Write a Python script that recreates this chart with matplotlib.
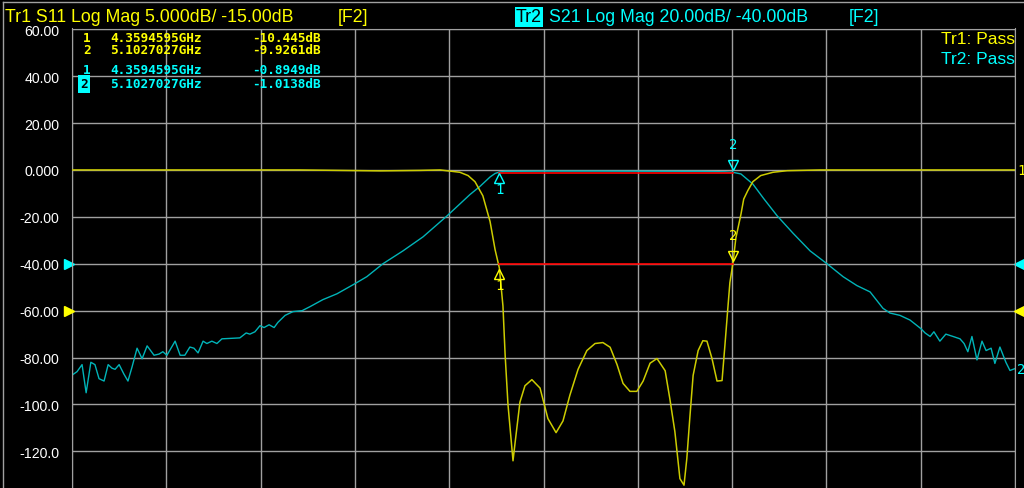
import matplotlib
matplotlib.use("Agg")
import matplotlib.pyplot as plt
from matplotlib.transforms import offset_copy

# S21 trace (GHz, dB)
freq_s21 = [3.000, 3.016, 3.032, 3.045, 3.060, 3.073, 3.086, 3.102, 3.115, 3.127,
            3.137, 3.150, 3.165, 3.178, 3.191, 3.207, 3.223, 3.239, 3.261, 3.277,
            3.289, 3.302, 3.315, 3.328, 3.344, 3.359, 3.375, 3.388, 3.401, 3.417,
            3.429, 3.445, 3.461, 3.477, 3.506, 3.534, 3.554, 3.566, 3.582, 3.598,
            3.611, 3.627, 3.643, 3.655, 3.678, 3.703, 3.732, 3.757, 3.798, 3.843,
            3.900, 3.938, 3.989, 4.053, 4.117, 4.193, 4.234, 4.266, 4.298, 4.330,
            4.346, 4.3595, 4.378, 4.521, 4.680, 4.839, 4.998, 5.077, 5.1027, 5.128,
            5.166, 5.201, 5.243, 5.294, 5.348, 5.402, 5.453, 5.497, 5.539, 5.580,
            5.602, 5.634, 5.666, 5.701, 5.714, 5.730, 5.742, 5.761, 5.780, 5.803,
            5.825, 5.838, 5.850, 5.863, 5.879, 5.895, 5.908, 5.924, 5.936, 5.952,
            5.971, 5.984, 6.000]
s21_db = [-87.5, -86, -83, -95, -82, -83, -89, -90, -83, -84.5,
          -85, -83, -87, -90, -84, -76, -80.5, -75, -79, -78.5,
          -77.5, -79, -76, -73, -79, -79, -75.5, -76, -78, -73,
          -74, -73, -74, -72, -71.8, -71.6, -69.5, -70, -69, -66.4,
          -67.2, -66, -67.2, -65, -62, -60.4, -60, -58.3, -55.3, -52.8,
          -48.5, -45.5, -40, -34.5, -28.5, -19.6, -14.5, -10.5, -7, -3,
          -1.5, -0.89, -0.6, -0.5, -0.5, -0.55, -0.6, -0.8, -1.01, -1.7,
          -6, -12.3, -19.5, -27, -34.5, -40, -45.5, -49.3, -52, -59,
          -61, -62, -64, -67.7, -69.5, -71, -69, -73, -70, -71,
          -72, -74, -77.5, -71, -81, -73, -77, -76, -82.5, -75.5,
          -82, -85.5, -84.7]

# S11 trace (GHz, dB)
freq_s11 = [3.000, 3.725, 3.980, 4.107, 4.171, 4.234, 4.260, 4.282, 4.307, 4.330,
            4.346, 4.3595, 4.371, 4.378, 4.387, 4.403, 4.409, 4.425, 4.441, 4.463,
            4.489, 4.514, 4.540, 4.562, 4.584, 4.610, 4.638, 4.664, 4.689, 4.712,
            4.734, 4.753, 4.775, 4.797, 4.817, 4.839, 4.861, 4.887, 4.902, 4.918,
            4.934, 4.947, 4.956, 4.966, 4.976, 4.992, 5.007, 5.020, 5.036, 5.052,
            5.068, 5.077, 5.087, 5.093, 5.1027, 5.112, 5.128, 5.137, 5.150, 5.166,
            5.191, 5.230, 5.275, 5.380, 6.000]
s11_db = [0, 0, -0.1, -0.05, 0, -0.25, -0.6, -1.25, -2.75, -5.5,
          -8.5, -10.445, -14.5, -19.75, -25, -31, -29.25, -24.75, -23, -22.35,
          -23.25, -26.5, -28, -26.75, -24, -21.25, -19.25, -18.5, -18.4, -18.9,
          -20.75, -22.75, -23.6, -23.6, -22.5, -20.6, -20.1, -21.4, -24.4, -27.9,
          -32.9, -33.6, -30.75, -26.2, -21.9, -19.25, -18.2, -18.25, -20.1, -22.5,
          -22.45, -18.75, -14.5, -12, -9.9261, -7.25, -4.75, -3.1, -2.2, -1.25,
          -0.6, -0.25, -0.08, 0, 0]

mkr_freq = [4.3594595, 5.1027027]
mkr_s11 = [-10.445, -9.9261]
mkr_s21 = [-0.8949, -1.0138]
lim_s11 = -10.0
lim_s21 = -1.5

ytick_vals = [60, 40, 20, 0, -20, -40, -60, -80, -100, -120]
ytick_txt = ["60.00", "40.00", "20.00", "0.000", "-20.00", "-40.00",
             "-60.00", "-80.00", "-100.0", "-120.0"]

YEL = "#ffff00"
CYN = "#00ffff"
YEL_TR = "#cccc00"
CYN_TR = "#00b4b8"
GRID = "#a0a0a0"
W, H = 1024, 489

fig = plt.figure(figsize=(W / 100, H / 100), dpi=100, facecolor="black")
ax = fig.add_axes([72 / W, 0, 943 / W, (H - 29.5) / H])
ax.set_facecolor("black")
ylo, yhi = -135.6, 60.3
ax.set_xlim(3.0, 6.0)
ax.set_ylim(ylo, yhi)
ax.set_xticks([3.0 + 0.3 * i for i in range(11)])
ax.set_xticklabels([])
ax.set_yticks(ytick_vals)
ax.set_yticklabels(ytick_txt, fontsize=10.2, color="white", family="Liberation Sans")
ax.tick_params(length=0, pad=9)
ax.grid(True, color=GRID, lw=1)
for s in ax.spines.values():
    s.set_color(GRID)
ax.spines["bottom"].set_visible(False)

# S11 on its own scale: 5 dB/div, ref -15 dB at the -60 line
ax2 = ax.twinx()
ax2.set_ylim(ylo / 4, yhi / 4)
ax2.axis("off")

ax.plot(freq_s21, s21_db, color=CYN_TR, lw=1)
ax2.plot(freq_s11, s11_db, color=YEL_TR, lw=1.1)

# limit lines
ax.plot(mkr_freq, [lim_s21, lim_s21], color="red", lw=1.2)
ax2.plot(mkr_freq, [lim_s11, lim_s11], color="red", lw=1.2)

# markers
def marker(a, f, v, col, up, num):
    dy = -6 if up else 7
    tr = offset_copy(a.transData, fig=fig, x=0, y=dy, units="dots")
    a.plot([f], [v], marker="^" if up else "v", ms=7, mfc="none", mec=col,
           mew=1, transform=tr, clip_on=False)
    ty = -17 if up else 28
    tr2 = offset_copy(a.transData, fig=fig, x=0, y=ty, units="dots")
    a.text(f, v, str(num), color=col, fontsize=10, family="DejaVu Sans Mono",
           ha="center", va="center", transform=tr2)

marker(ax, mkr_freq[0], mkr_s21[0], CYN, True, 1)
marker(ax, mkr_freq[1], mkr_s21[1], CYN, False, 2)
marker(ax2, mkr_freq[0], mkr_s11[0], YEL, True, 1)
marker(ax2, mkr_freq[1], mkr_s11[1], YEL, False, 2)

# reference level arrows on both edges
for a, lvl, col in [(ax, -40, CYN), (ax2, -15, YEL)]:
    trl = offset_copy(a.transData, fig=fig, x=-3, y=0, units="dots")
    trr = offset_copy(a.transData, fig=fig, x=4, y=0, units="dots")
    a.plot([3.0], [lvl], marker=">", ms=7, color=col, transform=trl, clip_on=False)
    a.plot([6.0], [lvl], marker="<", ms=7, color=col, transform=trr, clip_on=False)

# trace end labels
ax2.annotate("1", (6.0, s11_db[-1]), xytext=(2, 0), textcoords="offset pixels",
             color=YEL, fontsize=10, family="DejaVu Sans Mono", va="center",
             annotation_clip=False)
ax.annotate("2", (6.0, s21_db[-1]), xytext=(2, 0), textcoords="offset pixels",
            color=CYN, fontsize=10, family="DejaVu Sans Mono", va="center",
            annotation_clip=False)

def px(x, y):
    return x / W, 1 - y / H

# header
hf = dict(fontsize=12.8, family="Liberation Sans", va="baseline")
fig.text(*px(5, 22.5), "Tr1 S11 Log Mag 5.000dB/ -15.00dB", color=YEL, **hf)
fig.text(*px(338, 22.5), "[F2]", color=YEL, **hf)
fig.text(*px(516, 22.5), "Tr2", color="black", fontsize=12.8, family="Liberation Sans",
         va="baseline", bbox=dict(boxstyle="square,pad=0.08", fc=CYN, ec="none"))
fig.text(*px(549, 22.5), "S21 Log Mag 20.00dB/ -40.00dB", color=CYN, **hf)
fig.text(*px(849, 22.5), "[F2]", color=CYN, **hf)

# marker table
mf = dict(fontsize=9.2, family="DejaVu Sans Mono", weight="bold", va="center")
rows = [(38, YEL, 1, mkr_freq[0], mkr_s11[0], "%.3f"),
        (51, YEL, 2, mkr_freq[1], mkr_s11[1], "%.4f"),
        (71, CYN, 1, mkr_freq[0], mkr_s21[0], "%.4f"),
        (85, CYN, 2, mkr_freq[1], mkr_s21[1], "%.4f")]
for y, col, n, f, v, fmt in rows:
    if y == 85:
        fig.text(*px(84, y), str(n), color="black", ha="center",
                 bbox=dict(boxstyle="square,pad=0.2", fc=CYN, ec="none"), **mf)
    else:
        fig.text(*px(87, y), str(n), color=col, ha="center", **mf)
    fig.text(*px(110, y), "%.7fGHz" % f, color=col, ha="left", **mf)
    fig.text(*px(321, y), (fmt % v) + "dB", color=col, ha="right", **mf)

# pass/fail
fig.text(*px(1015, 40), "Tr1: Pass", color=YEL, fontsize=12.5,
         family="Liberation Sans", ha="right", va="center")
fig.text(*px(1015, 60), "Tr2: Pass", color=CYN, fontsize=12.5,
         family="Liberation Sans", ha="right", va="center")

# screen frame
fig.add_artist(plt.Line2D([3 / W, 3 / W], [0, 1 - 3 / H], color=GRID, lw=1))
fig.add_artist(plt.Line2D([3 / W, 1], [1 - 3 / H, 1 - 3 / H], color=GRID, lw=1))

fig.savefig("out.png", dpi=100, facecolor="black")
